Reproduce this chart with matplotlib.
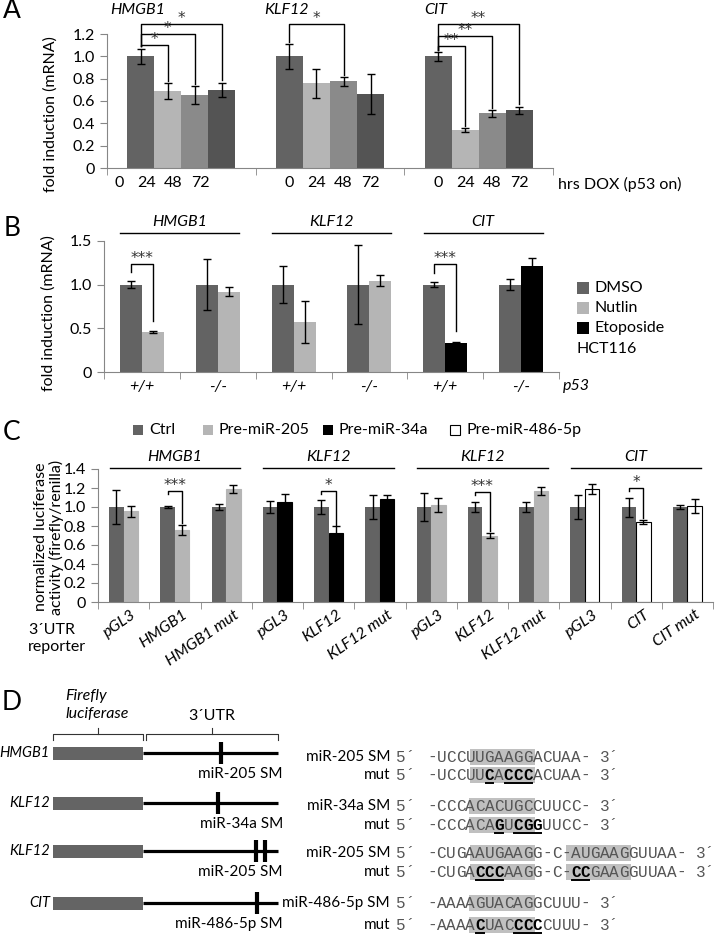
import numpy as np
import matplotlib
matplotlib.use('Agg')
import matplotlib.pyplot as plt
from matplotlib.patches import Rectangle

plt.rcParams['font.family'] = ['Lato', 'DejaVu Sans']
plt.rcParams['font.size'] = 11

W, H = 717, 935
MONO = 'Liberation Mono'

# ---------------- panel A: time course after DOX ----------------
a_genes = ['HMGB1', 'KLF12', 'CIT']
a_hours = ['0', '24', '48', '72']
a_vals = [[1.0, 0.69, 0.655, 0.70],
          [1.0, 0.76, 0.775, 0.66],
          [1.0, 0.34, 0.49, 0.515]]
a_errs = [[0.07, 0.07, 0.08, 0.065],
          [0.11, 0.13, 0.04, 0.18],
          [0.04, 0.015, 0.03, 0.035]]
a_colors = ['#636363', '#b5b5b5', '#8a8a8a', '#545454']
# (gene, bar, bracket level, stars)
a_sig = [(0, 1, 1.10, '*'), (0, 2, 1.20, '*'), (0, 3, 1.29, '*'),
         (1, 2, 1.29, '*'),
         (2, 1, 1.09, '**'), (2, 2, 1.18, '**'), (2, 3, 1.29, '**')]

# ---------------- panel B: HCT116 drugs ----------------
b_genes = ['HMGB1', 'KLF12', 'CIT']
b_p53 = ['+/+', '-/-', '+/+', '-/-', '+/+', '-/-']
b_dmso = [1.0, 1.0, 1.0, 1.0, 1.0, 1.0]
b_dmso_err = [0.04, 0.29, 0.21, 0.45, 0.03, 0.06]
b_drug = [0.455, 0.92, 0.575, 1.045, 0.335, 1.21]
b_drug_err = [0.01, 0.05, 0.24, 0.065, 0.01, 0.09]
b_drug_name = ['Nutlin', 'Nutlin', 'Nutlin', 'Nutlin', 'Etoposide', 'Etoposide']
b_sig = [(0, 1.24, '***'), (4, 1.24, '***')]

# ---------------- panel C: luciferase reporters ----------------
c_genes = ['HMGB1', 'KLF12', 'KLF12', 'CIT']
c_mirs = ['Pre-miR-205', 'Pre-miR-34a', 'Pre-miR-205', 'Pre-miR-486-5p']
c_reporters = ['pGL3', 'HMGB1', 'HMGB1 mut', 'pGL3', 'KLF12', 'KLF12 mut',
               'pGL3', 'KLF12', 'KLF12 mut', 'pGL3', 'CIT', 'CIT mut']
c_ctrl = [1.0] * 12
c_ctrl_err = [0.18, 0.01, 0.035, 0.06, 0.075, 0.13, 0.15, 0.05, 0.05, 0.13, 0.10, 0.02]
c_mir = [0.955, 0.76, 1.19, 1.05, 0.73, 1.08, 1.02, 0.70, 1.17, 1.19, 0.84, 1.01]
c_mir_err = [0.06, 0.05, 0.04, 0.09, 0.065, 0.05, 0.07, 0.03, 0.04, 0.05, 0.02, 0.07]
c_sig = [(1, 1.17, '***'), (4, 1.17, '*'), (7, 1.16, '***'), (10, 1.20, '*')]

colors = {'Ctrl': '#636363', 'DMSO': '#636363', 'Nutlin': '#b5b5b5',
          'Etoposide': 'black', 'Pre-miR-205': '#b5b5b5',
          'Pre-miR-34a': 'black', 'Pre-miR-486-5p': 'white'}

# ---------------- panel D: constructs and seed matches ----------------
d_genes = ['HMGB1', 'KLF12', 'KLF12', 'CIT']
d_sites = ['miR-205 SM', 'miR-34a SM', 'miR-205 SM', 'miR-486-5p SM']
d_site_pos = [[0.58], [0.556], [0.837, 0.904], [0.845]]
seq_wt = ['-UCCUUGAAGGACUAA-', '-CCCACACUGCCUUCC-',
          '-CUGAAUGAAGG-C-AUGAAGGUUAA-', '-AAAAGUACAGGCUUU-']
seq_mut = ['-UCCUUCACCCACUAA-', '-CCCACAGUCGGUUCC-',
           '-CUGACCCAAGG-C-CCGAAGGUUAA-', '-AAAACUACCCCCUUU-']
seq_boxes = [[(4.5, 11.3)], [(4.4, 11.2)], [(4.5, 11.3), (14.5, 21.2)], [(4.4, 11.3)]]

ERR = dict(elinewidth=1, capthick=1, ecolor='black')
AXC = '#868686'
STAR = dict(family='DejaVu Sans', fontsize=11, color='#333333')

fig = plt.figure(figsize=(W / 100, H / 100), dpi=100)
ov = fig.add_axes([0, 0, 1, 1])
ov.set_xlim(0, W)
ov.set_ylim(H, 0)
ov.axis('off')


def px_axes(x0, y0, x1, y1):
    return fig.add_axes([x0 / W, 1 - y1 / H, (x1 - x0) / W, (y1 - y0) / H])


def style(ax, yticks, ylabels, centers, labels, bounds):
    for s in ['top', 'right']:
        ax.spines[s].set_visible(False)
    for s in ['left', 'bottom']:
        ax.spines[s].set_color(AXC)
    ax.set_yticks(yticks, ylabels)
    ax.set_xticks(centers, labels)
    ax.set_xticks(bounds, minor=True)
    ax.tick_params(axis='x', which='major', length=0, pad=6, labelsize=11.5)
    ax.tick_params(axis='x', which='minor', length=5, color=AXC)
    ax.tick_params(axis='y', length=5, color=AXC, labelsize=11.5)


def bracket(ax, x0, x1, y0, y1, lvl, s, dy):
    ax.plot([x0, x0, x1, x1], [y0, lvl, lvl, y1], color='black', lw=1, clip_on=False)
    ax.text((x0 + x1) / 2, lvl + dy, s, ha='center', va='center', clip_on=False, **STAR)


# ---- A ----
axA = px_axes(107, 34, 553, 168)
gw = 5.5
for i in range(4):
    xs = [g * gw + i - 1.5 for g in range(3)]
    axA.bar(xs, [a_vals[g][i] for g in range(3)], width=1, color=a_colors[i],
            yerr=[a_errs[g][i] for g in range(3)], capsize=3, error_kw=ERR)
axA.set_xlim(-2.75, 2 * gw + 2.75)
axA.set_ylim(0, 1.2)
yt = np.arange(0, 1.21, 0.2)
label_shift = [-0.8, 0, 0]
style(axA, yt, ['0'] + ['%.1f' % v for v in yt[1:]],
      [g * gw + i - 1.5 + label_shift[g] for g in range(3) for i in range(4)],
      a_hours * 3, [-2.75 + gw * k for k in range(4)])
for g, gene in enumerate(a_genes):
    axA.text(g * gw - 1.6, 1.415, gene, style='italic', ha='center', va='center',
             fontsize=11.5, clip_on=False)
for g, i, lvl, s in a_sig:
    bracket(axA, g * gw - 1.5, g * gw + i - 1.5,
            a_vals[g][0] + a_errs[g][0] + 0.02, a_vals[g][i] + a_errs[g][i] + 0.02,
            lvl, s, 0.05)

# ---- B ----
axB = px_axes(104, 241, 559, 372)
cb = 3.45
xb = np.arange(6) * cb
axB.bar(xb - 0.5, b_dmso, width=1, color=colors['DMSO'], yerr=b_dmso_err, capsize=3, error_kw=ERR)
axB.bar(xb + 0.5, b_drug, width=1, color=[colors[n] for n in b_drug_name],
        yerr=b_drug_err, capsize=3, error_kw=ERR)
axB.set_xlim(-cb / 2, 5 * cb + cb / 2)
axB.set_ylim(0, 1.5)
style(axB, [0, 0.5, 1.0, 1.5], ['0', '0.5', '1.0', '1.5'], xb, b_p53,
      [-cb / 2 + cb * k for k in range(7)])
for t in axB.get_xticklabels():
    t.set_style('italic')
for g, gene in enumerate(b_genes):
    left, right = -cb / 2 + 2 * g * cb, -cb / 2 + 2 * (g + 1) * cb
    axB.plot([left + 0.75, right - 0.75], [1.59, 1.59], color='black', lw=1, clip_on=False)
    axB.text((left + right) / 2, 1.72, gene, style='italic', ha='center', va='center',
             fontsize=11.5, clip_on=False)
for c, lvl, s in b_sig:
    bracket(axB, xb[c] - 0.5, xb[c] + 0.5, b_dmso[c] + b_dmso_err[c] + 0.1,
            b_drug[c] + b_drug_err[c] + 0.12, lvl, s, 0.065)

# ---- C ----
axC = px_axes(98, 469, 713, 602)
cc = 3.53
xc = np.arange(12) * cc
mir_of = [c_mirs[k // 3] for k in range(12)]
axC.bar(xc - 0.5, c_ctrl, width=1, color=colors['Ctrl'], yerr=c_ctrl_err, capsize=3, error_kw=ERR)
axC.bar(xc + 0.5, c_mir, width=1, color=[colors[m] for m in mir_of],
        edgecolor=['black' if m == 'Pre-miR-486-5p' else colors[m] for m in mir_of],
        linewidth=0.8, yerr=c_mir_err, capsize=3, error_kw=ERR)
axC.set_xlim(-cc / 2, 11 * cc + cc / 2)
axC.set_ylim(0, 1.4)
yt = np.arange(0, 1.41, 0.2)
style(axC, yt, ['0'] + ['%.1f' % v for v in yt[1:]], xc + 0.5, c_reporters,
      [-cc / 2 + cc * k for k in range(13)])
for t in axC.get_xticklabels():
    t.set_style('italic')
    t.set_rotation(35)
    t.set_ha('right')
    t.set_rotation_mode('anchor')
axC.tick_params(axis='x', which='major', pad=4)
for g, gene in enumerate(c_genes):
    left, right = -cc / 2 + 3 * g * cc, -cc / 2 + 3 * (g + 1) * cc
    axC.plot([left + 0.8, right - 0.8], [1.41, 1.41], color='black', lw=1, clip_on=False)
    axC.text((left + right) / 2, 1.53, gene, style='italic', ha='center', va='center',
             fontsize=11.5, clip_on=False)
for c, lvl, s in c_sig:
    bracket(axC, xc[c] - 0.5, xc[c] + 0.5, lvl - 0.03,
            c_mir[c] + c_mir_err[c] + 0.02, lvl, s, 0.06)

# ---- figure-level text ----
for letter, (x, y) in zip('ABCD', [(12, 11), (12, 228), (12, 432), (12, 702)]):
    ov.text(x, y, letter, fontsize=19, ha='center', va='center')
ov.text(51, 114, 'fold induction (mRNA)', rotation=90, ha='center', va='center', fontsize=11.5)
ov.text(49, 313, 'fold induction (mRNA)', rotation=90, ha='center', va='center', fontsize=11.5)
ov.text(49, 537, 'normalized luciferase\nactivity (firefly/renilla)', rotation=90,
        ha='center', va='center', fontsize=11.5, linespacing=1.0)
ov.text(558, 184, 'hrs DOX (p53 on)', ha='left', va='center', fontsize=11.5)
ov.text(563, 386, 'p53', ha='left', va='center', fontsize=11.5, style='italic')
ov.text(28, 630, '3\u00b4UTR', ha='left', va='center', fontsize=11.5)
ov.text(28, 647, 'reporter', ha='left', va='center', fontsize=11.5)

for k, name in enumerate(['DMSO', 'Nutlin', 'Etoposide']):
    y = 288 + 20 * k
    ov.add_patch(Rectangle((577, y - 6), 12, 12, facecolor=colors[name], edgecolor='none'))
    ov.text(595, y, name, va='center', fontsize=11.5)
ov.text(577, 349, 'HCT116', va='center', fontsize=11.5)

for name, x in zip(['Ctrl', 'Pre-miR-205', 'Pre-miR-34a', 'Pre-miR-486-5p'], [133, 203, 323, 450]):
    ov.add_patch(Rectangle((x, 425), 10, 10, facecolor=colors[name],
                           edgecolor='black' if name == 'Pre-miR-486-5p' else 'none', lw=0.8))
    ov.text(x + 16, 430, name, va='center', fontsize=11.5)

# ---- D: constructs ----
d_rows_y = [753, 803, 851, 903]
utr0, utr1 = 143, 278
for k, y in enumerate(d_rows_y):
    ov.add_patch(Rectangle((53, y - 6.5), utr0 - 53, 13, facecolor='#646464', edgecolor='none'))
    ov.plot([utr0, utr1], [y, y], color='black', lw=2.3, solid_capstyle='butt')
    for f in d_site_pos[k]:
        xm = utr0 + f * (utr1 - utr0)
        ov.plot([xm, xm], [y - 11, y + 11], color='black', lw=3, solid_capstyle='butt')
    ov.text(50, y, d_genes[k], style='italic', ha='right', va='center', fontsize=10.5)
    ov.text(283, y + 21, d_sites[k], ha='right', va='center', fontsize=11)

for x0, x1 in [(53, 143), (146, 278)]:
    xm = (x0 + x1) / 2
    ov.plot([x0, x0, x1, x1], [740, 734, 734, 740], color='#333333', lw=0.8)
    ov.plot([xm, xm], [734, 728], color='#333333', lw=0.8)
ov.text(65, 696, 'Firefly', style='italic', ha='left', va='center', fontsize=11.5)
ov.text(65, 714, 'luciferase', style='italic', ha='left', va='center', fontsize=11.5)
ov.text(212, 716, '3\u00b4UTR', ha='center', va='center', fontsize=11.5)

# ---- D: sequences ----
seq_rows_y = [(757, 775), (806, 825), (853, 872), (903, 925)]
cw = 9.6
sx = 427
fs_mono = cw / 0.6 * 72 / 100
for k in range(4):
    for row, y in enumerate(seq_rows_y[k]):
        seq = seq_wt[k] if row == 0 else seq_mut[k]
        ov.text(390, y, d_sites[k] if row == 0 else 'mut', ha='right', va='center', fontsize=11)
        for s, e in seq_boxes[k]:
            ov.add_patch(Rectangle((sx + s * cw, y - 8), (e - s) * cw, 16,
                                   facecolor='#c0c0c0', edgecolor='none'))
        ov.text(396, y + 4.6, '5\u00b4', family=MONO, fontsize=fs_mono, color='#555555',
                ha='left', va='baseline')
        ov.text(sx + (len(seq) + 1) * cw, y + 4.6, '3\u00b4', family=MONO, fontsize=fs_mono,
                color='#555555', ha='left', va='baseline')
        changed = [row == 1 and seq_wt[k][i] != seq_mut[k][i] for i in range(len(seq))]
        for i, ch in enumerate(seq):
            ov.text(sx + (i + 0.5) * cw, y + 4.6, ch, family=MONO, fontsize=fs_mono,
                    ha='center', va='baseline',
                    color='black' if changed[i] else '#555555',
                    weight='bold' if changed[i] else 'normal')
        i = 0
        while i < len(seq):
            if changed[i]:
                j = i
                while j + 1 < len(seq) and changed[j + 1]:
                    j += 1
                ov.plot([sx + i * cw + 1, sx + (j + 1) * cw - 1], [y + 7.5, y + 7.5],
                        color='black', lw=1.4)
                i = j + 1
            else:
                i += 1

fig.savefig('out.png', dpi=100)
